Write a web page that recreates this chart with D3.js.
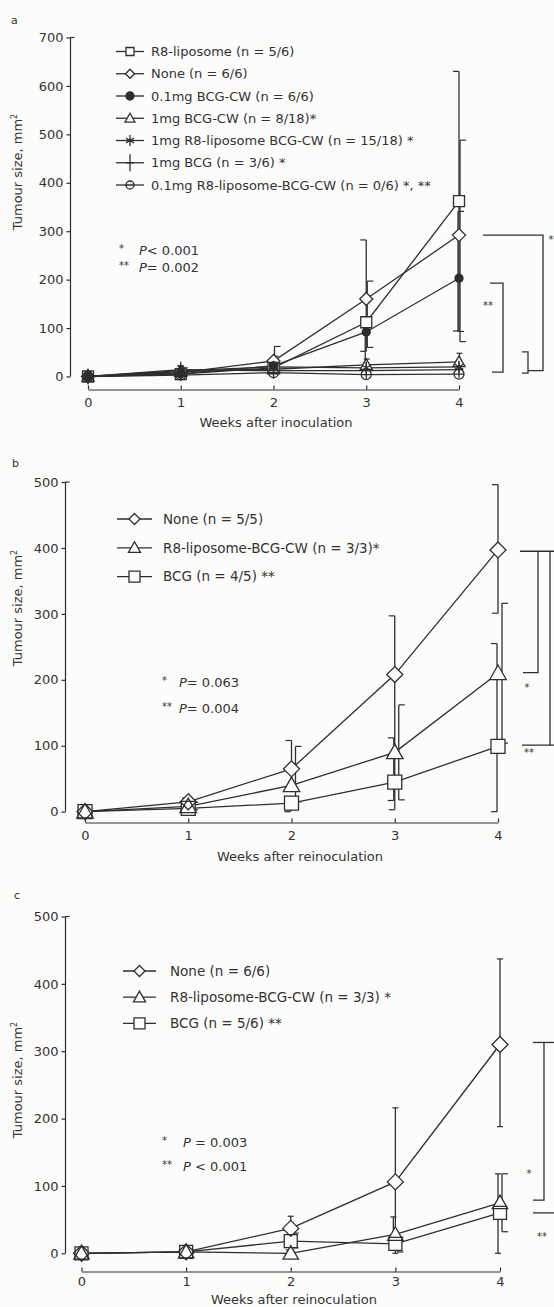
<!DOCTYPE html>
<html><head><meta charset="utf-8">
<script src="https://cdn.jsdelivr.net/npm/d3@7"></script>
<style>
body{margin:0;background:#fcfcfb}
svg{display:block}
text{font-family:"DejaVu Sans",sans-serif;fill:#333}
</style>
</head><body>
<svg id="chart" width="554" height="1307"></svg>
<script>
// ---------------- DATA ----------------
const weeks = [0, 1, 2, 3, 4];
const yTicksA = [0, 100, 200, 300, 400, 500, 600, 700];
const yTicksBC = [0, 100, 200, 300, 400, 500];

// Panel a
const aLabels = [
  "R8-liposome (n = 5/6)",
  "None (n = 6/6)",
  "0.1mg BCG-CW (n = 6/6)",
  "1mg BCG-CW (n = 8/18)*",
  "1mg R8-liposome BCG-CW (n = 15/18) *",
  "1mg BCG (n = 3/6) *",
  "0.1mg R8-liposome-BCG-CW  (n = 0/6) *, **"
];
const aR8Lipo      = [0, 5, 18, 112, 362];
const aR8LipoUp    = [0, 8, 15, 170, 268];
const aR8LipoDn    = [0, 5, 10, 60, 268];
const aNone        = [0, 8, 32, 160, 292];
const aNoneUp      = [0, 10, 30, 37, 196];
const aNoneDn      = [0, 6, 20, 100, 220];
const aBcgCw01     = [0, 6, 22, 92, 203];
const aBcgCw01Up   = [0, 8, 20, 30, 138];
const aBcgCw01Dn   = [0, 5, 15, 70, 110];
const aBcgCw1      = [0, 10, 15, 24, 30];
const aBcgCw1Up    = [0, 10, 10, 12, 18];
const aBcgCw1Dn    = [0, 8, 10, 12, 15];
const aR8BcgCw1    = [0, 12, 20, 18, 20];
const aR8BcgCw1Up  = [0, 10, 12, 10, 12];
const aR8BcgCw1Dn  = [0, 8, 10, 10, 10];
const aBcg1        = [0, 14, 12, 12, 14];
const aBcg1Up      = [0, 8, 8, 8, 8];
const aBcg1Dn      = [0, 8, 8, 8, 8];
const aR8BcgCw01   = [0, 3, 8, 4, 5];
const aR8BcgCw01Up = [0, 3, 5, 3, 3];
const aR8BcgCw01Dn = [0, 3, 5, 3, 3];
const aPvals = [["*", "P", "< 0.001"], ["**", "P", "= 0.002"]];

// Panel b
const bLabels = ["None (n = 5/5)", "R8-liposome-BCG-CW (n = 3/3)*", "BCG (n = 4/5) **"];
const bNone     = [0, 15, 65, 208, 397];
const bNoneUp   = [0, 6, 43, 89, 99];
const bNoneDn   = [0, 6, 30, 205, 96];
const bR8Cw     = [0, 8, 40, 90, 210];
const bR8CwUp   = [0, 6, 59, 72, 106];
const bR8CwDn   = [0, 5, 25, 72, 106];
const bBcg      = [0, 5, 13, 45, 99];
const bBcgUp    = [0, 5, 10, 67, 156];
const bBcgDn    = [0, 5, 13, 28, 99];
const bPvals = [["*", "P", "= 0.063"], ["**", "P", "= 0.004"]];

// Panel c
const cLabels = ["None  (n = 6/6)", "R8-liposome-BCG-CW (n = 3/3) *", "BCG  (n = 5/6) **"];
const cNone     = [0, 2, 37, 106, 310];
const cNoneUp   = [0, 3, 18, 110, 127];
const cNoneDn   = [0, 2, 15, 106, 122];
const cR8Cw     = [0, 2, 0, 28, 75];
const cR8CwUp   = [0, 3, 5, 26, 43];
const cR8CwDn   = [0, 2, 0, 20, 75];
const cBcg      = [0, 2, 18, 14, 60];
const cBcgUp    = [0, 3, 12, 10, 58];
const cBcgDn    = [0, 2, 10, 12, 28];
const cPvals = [["*", "P", " = 0.003"], ["**", "P", " < 0.001"]];

// ---------------- DRAWING ----------------
const INK = "#2e2e2e";
const BG = "#fcfcfb";
const svg = d3.select("#chart");

function markerPath(shape, s) {
  const h = s / 2;
  switch (shape) {
    case "square": return `M${-h},${-h}h${s}v${s}h${-s}Z`;
    case "diamond": return `M0,${-h}L${h},0L0,${h}L${-h},0Z`;
    case "triangle": return `M0,${-s*0.55}L${s*0.55},${s*0.42}L${-s*0.55},${s*0.42}Z`;
    case "circle": case "fcircle": return d3.arc()({innerRadius:0, outerRadius:h, startAngle:0, endAngle:2*Math.PI});
    case "asterisk": {
      const d = h * 0.72;
      return `M0,${-h}V${h}M${-d},${-d*0.6}L${d},${d*0.6}M${-d},${d*0.6}L${d},${-d*0.6}`;
    }
    case "plus": return `M0,${-h}V${h}M${-h*0.45},0H${h*0.45}`;
    case "ocircle": return d3.arc()({innerRadius:0, outerRadius:h, startAngle:0, endAngle:2*Math.PI}) + `M${-h},0H${h}`;
  }
}
function markerFill(g, shape, cx, cy, s) {
  if (shape === "asterisk" || shape === "plus") return;
  g.append("path").attr("d", markerPath(shape === "ocircle" ? "circle" : shape, s))
    .attr("transform", `translate(${cx},${cy})`)
    .attr("fill", shape === "fcircle" ? INK : BG).attr("stroke", "none");
}
function markerStroke(g, shape, cx, cy, s) {
  g.append("path").attr("d", markerPath(shape, s))
    .attr("transform", `translate(${cx},${cy})`)
    .attr("fill", shape === "fcircle" ? INK : "none")
    .attr("stroke", INK).attr("stroke-width", 1.3);
}

function panel(cfg) {
  const g = svg.append("g");
  const x = d3.scaleLinear().domain([0, 4]).range(cfg.xr);
  const y = d3.scaleLinear().domain([0, cfg.ymax]).range(cfg.yr);

  // panel letter
  g.append("text").attr("x", cfg.letter[0]).attr("y", cfg.letter[1]).attr("font-size", 11).text(cfg.letter[2]);

  // y axis
  const ya = g.append("g").attr("transform", `translate(${cfg.yAxisX},0)`)
    .call(d3.axisLeft(y).tickValues(cfg.yTicks).tickSize(4).tickPadding(3).tickSizeOuter(0));
  ya.selectAll("path,line").attr("stroke", INK).attr("stroke-width", 1.2);
  ya.selectAll("text").attr("font-size", 13).style("fill", "#333");
  ya.select("path.domain").remove();
  g.append("line").attr("x1", cfg.yAxisX).attr("x2", cfg.yAxisX)
    .attr("y1", y(0)).attr("y2", y(cfg.ymax)).attr("stroke", INK).attr("stroke-width", 1.2);
  g.append("line").attr("x1", cfg.yAxisX).attr("x2", cfg.yAxisX + 4)
    .attr("y1", y(cfg.ymax)).attr("y2", y(cfg.ymax)).attr("stroke", INK).attr("stroke-width", 1.2);

  // y label
  const yl = g.append("text").attr("transform", `translate(${cfg.yLabel[0]},${cfg.yLabel[1]}) rotate(-90)`)
    .attr("text-anchor", "middle").attr("font-size", 13);
  yl.append("tspan").text("Tumour size, mm");
  yl.append("tspan").attr("font-size", 8).attr("dy", -5).text("2");

  // x axis
  const xa = g.append("g").attr("transform", `translate(0,${cfg.xAxisY})`)
    .call(d3.axisBottom(x).tickValues(weeks).tickFormat(d3.format("d")).tickSize(-4).tickPadding(cfg.xPad).tickSizeOuter(0));
  xa.selectAll("path,line").attr("stroke", INK).attr("stroke-width", 1.2);
  xa.selectAll("text").attr("font-size", 13).style("fill", "#333");
  g.append("text").attr("x", cfg.xTitle[0]).attr("y", cfg.xTitle[1]).attr("text-anchor", "middle")
    .attr("font-size", 13).text(cfg.xTitle[2]);

  // error bars
  cfg.series.forEach(s => {
    weeks.forEach((w, i) => {
      if (!s.up[i] && !s.dn[i]) return;
      const cx = x(w) + s.ebDx;
      const yTop = y(s.vals[i] + s.up[i]);
      const yBot = y(Math.max(0, s.vals[i] - s.dn[i]));
      g.append("line").attr("x1", cx).attr("x2", cx).attr("y1", yTop).attr("y2", yBot)
        .attr("stroke", INK).attr("stroke-width", 1.3);
      const cw = cfg.capW;
      [yTop, yBot].forEach(yy => {
        const x1 = s.cap === 0 ? cx - cw / 2 : cx;
        const x2 = s.cap === 0 ? cx + cw / 2 : cx + s.cap * cw;
        g.append("line").attr("x1", x1).attr("x2", x2).attr("y1", yy).attr("y2", yy)
          .attr("stroke", INK).attr("stroke-width", 1.2);
      });
    });
  });

  // lines
  const line = d3.line().x((d, i) => x(weeks[i])).y(d => y(d));
  cfg.series.forEach(s => {
    g.append("path").attr("d", line(s.vals)).attr("fill", "none")
      .attr("stroke", INK).attr("stroke-width", 1.3);
  });
  // markers: fills first (mask the lines), then all outlines (overlaps stay visible)
  cfg.series.forEach(s => s.vals.forEach((v, i) => markerFill(g, s.shape, x(weeks[i]), y(v), s.size)));
  cfg.series.forEach(s => s.vals.forEach((v, i) => markerStroke(g, s.shape, x(weeks[i]), y(v), s.size)));

  // legend
  cfg.series.forEach((s, i) => {
    const ly = cfg.legend.y0 + i * cfg.legend.dy;
    const lx = (cfg.legend.x1 + cfg.legend.x2) / 2;
    g.append("line").attr("x1", cfg.legend.x1).attr("x2", cfg.legend.x2).attr("y1", ly).attr("y2", ly)
      .attr("stroke", INK).attr("stroke-width", 1.3);
    markerFill(g, s.shape, lx, ly, s.lsize);
    markerStroke(g, s.shape, lx, ly, s.lsize);
    g.append("text").attr("x", cfg.legend.tx).attr("y", ly).attr("dy", "0.35em")
      .attr("font-size", cfg.legend.fs).text(s.label);
  });

  // p-values
  cfg.pvals.forEach((p, i) => {
    const t = g.append("text").attr("x", cfg.pv.x).attr("y", cfg.pv.y0 + i * cfg.pv.dy).attr("font-size", 13);
    t.append("tspan").attr("font-size", 10).attr("dy", -3).text(p[0]);
    t.append("tspan").attr("x", cfg.pv.px).attr("dy", 3).attr("font-style", "italic").text(p[1]);
    t.append("tspan").text(p[2]);
  });

  // brackets
  cfg.brackets.forEach(b => {
    g.append("path").attr("d", d3.line()(b.map(p => [p[0], y(p[1])])))
      .attr("fill", "none").attr("stroke", INK).attr("stroke-width", 1.3);
  });
  cfg.stars.forEach(st => {
    g.append("text").attr("x", st[0]).attr("y", y(st[1])).attr("font-size", 10)
      .attr("text-anchor", "middle").text(st[2]);
  });
}

// Panel a
panel({
  xr: [88, 459], ymax: 700, yr: [376.5, 37.5], yTicks: yTicksA, yAxisX: 70.5,
  xAxisY: 389.5, xPad: 8.7, capW: 6,
  letter: [11, 24, "a"], yLabel: [22, 172], xTitle: [276, 427, "Weeks after inoculation"],
  series: [
    {label: aLabels[0], shape: "square",   size: 11, lsize: 8, vals: aR8Lipo,   up: aR8LipoUp,   dn: aR8LipoDn,   ebDx: 0,  cap: -1},
    {label: aLabels[1], shape: "diamond",  size: 13, lsize: 9, vals: aNone,     up: aNoneUp,     dn: aNoneDn,     ebDx: 1,  cap: 1},
    {label: aLabels[2], shape: "fcircle",  size: 8,  lsize: 8, vals: aBcgCw01,  up: aBcgCw01Up,  dn: aBcgCw01Dn,  ebDx: -1, cap: 1},
    {label: aLabels[3], shape: "triangle", size: 11, lsize: 9, vals: aBcgCw1,   up: aBcgCw1Up,   dn: aBcgCw1Dn,   ebDx: 0.5, cap: 0},
    {label: aLabels[4], shape: "asterisk", size: 12, lsize: 11, vals: aR8BcgCw1, up: aR8BcgCw1Up, dn: aR8BcgCw1Dn, ebDx: -0.5, cap: 0},
    {label: aLabels[5], shape: "plus",     size: 16, lsize: 17, vals: aBcg1,     up: aBcg1Up,     dn: aBcg1Dn,     ebDx: 0,  cap: 0},
    {label: aLabels[6], shape: "ocircle",  size: 10, lsize: 8, vals: aR8BcgCw01, up: aR8BcgCw01Up, dn: aR8BcgCw01Dn, ebDx: 0, cap: 0}
  ],
  legend: {x1: 116, x2: 144, tx: 151, y0: 51.5, dy: 22.25, fs: 13},
  pvals: aPvals, pv: {x: 119, px: 139, y0: 255, dy: 17},
  brackets: [
    [[483, 292], [543, 292], [543, 12], [528, 12]],
    [[490, 193], [503, 193], [503, 9], [492, 9]],
    [[522, 51], [528, 51], [528, 7], [522, 7]]
  ],
  stars: [[551, 275, "*"], [488, 140, "**"]]
});

// Panel b
panel({
  xr: [85, 498], ymax: 500, yr: [811.7, 482], yTicks: yTicksBC, yAxisX: 65.5,
  xAxisY: 822.5, xPad: 8.7, capW: 6,
  letter: [12, 467, "b"], yLabel: [22, 608], xTitle: [300, 861, "Weeks after reinoculation"],
  series: [
    {label: bLabels[0], shape: "diamond",  size: 16, lsize: 11, vals: bNone, up: bNoneUp, dn: bNoneDn, ebDx: 0,  cap: -1},
    {label: bLabels[1], shape: "triangle", size: 15, lsize: 11, vals: bR8Cw, up: bR8CwUp, dn: bR8CwDn, ebDx: 4,  cap: 1},
    {label: bLabels[2], shape: "square",   size: 14, lsize: 11, vals: bBcg,  up: bBcgUp,  dn: bBcgDn,  ebDx: -1, cap: -1}
  ],
  legend: {x1: 117, x2: 152, tx: 163, y0: 519, dy: 28.8, fs: 13.5},
  pvals: bPvals, pv: {x: 162, px: 179, y0: 687, dy: 26},
  brackets: [
    [[520, 395], [554, 395]],
    [[538, 395], [538, 211], [523, 211]],
    [[550, 395], [550, 101], [522, 101], [554, 101]]
  ],
  stars: [[527, 183, "*"], [529, 84, "**"]]
});

// Panel c
panel({
  xr: [81.5, 500], ymax: 500, yr: [1253.3, 916.5], yTicks: yTicksBC, yAxisX: 65.5,
  xAxisY: 1271.5, xPad: 5.4, capW: 6,
  letter: [14, 899, "c"], yLabel: [22, 1080], xTitle: [294, 1304, "Weeks after reinoculation"],
  series: [
    {label: cLabels[0], shape: "diamond",  size: 16, lsize: 11, vals: cNone, up: cNoneUp, dn: cNoneDn, ebDx: 0,  cap: 0},
    {label: cLabels[1], shape: "triangle", size: 14, lsize: 11, vals: cR8Cw, up: cR8CwUp, dn: cR8CwDn, ebDx: -2, cap: 0},
    {label: cLabels[2], shape: "square",   size: 13, lsize: 11, vals: cBcg,  up: cBcgUp,  dn: cBcgDn,  ebDx: 2,  cap: 1}
  ],
  legend: {x1: 123, x2: 156, tx: 170, y0: 971, dy: 26.2, fs: 13.5},
  pvals: cPvals, pv: {x: 162, px: 183, y0: 1147, dy: 24},
  brackets: [
    [[533, 313], [554, 313]],
    [[544, 313], [544, 79], [533, 79]],
    [[533, 60], [554, 60]]
  ],
  stars: [[529, 114, "*"], [542, 20, "**"]]
});
</script>
</body></html>
